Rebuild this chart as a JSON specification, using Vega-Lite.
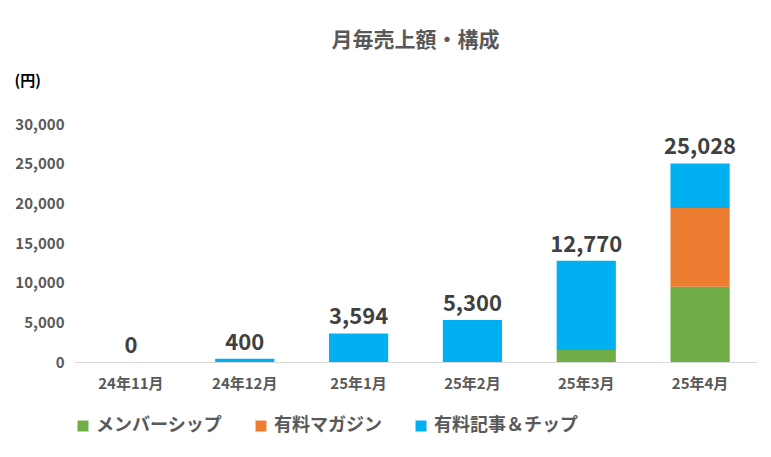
{
  "$schema": "https://vega.github.io/schema/vega-lite/v6.json",
  "width": 771,
  "height": 457,
  "autosize": {"type": "fit", "contains": "padding"},
  "padding": {"left": 14, "right": 14, "top": 30, "bottom": 22},
  "background": "white",
  "title": {"text": "月毎売上額・構成", "font": "Noto Sans CJK JP", "fontSize": 21, "fontWeight": "bold", "color": "#595959", "offset": 22},
  "config": {
    "view": {"stroke": null},
    "font": "Noto Sans CJK JP"
  },
  "data": {
    "values": [
      {"month": "24年11月", "type": "メンバーシップ", "value": 0},
      {"month": "24年12月", "type": "有料記事＆チップ", "value": 400},
      {"month": "25年1月", "type": "有料記事＆チップ", "value": 3594},
      {"month": "25年2月", "type": "有料記事＆チップ", "value": 5300},
      {"month": "25年3月", "type": "メンバーシップ", "value": 1500},
      {"month": "25年3月", "type": "有料記事＆チップ", "value": 11270},
      {"month": "25年4月", "type": "メンバーシップ", "value": 9500},
      {"month": "25年4月", "type": "有料マガジン", "value": 9900},
      {"month": "25年4月", "type": "有料記事＆チップ", "value": 5628}
    ]
  },
  "encoding": {
    "x": {
      "field": "month", "type": "nominal", "sort": null,
      "scale": {"paddingInner": 0.48, "paddingOuter": 0.24},
      "axis": {"title": null, "labelAngle": 0, "labelFontSize": 15, "labelFontWeight": "bold", "labelColor": "#595959", "labelPadding": 14, "ticks": false, "domainColor": "#d9d9d9"}
    }
  },
  "layer": [
    {
      "mark": {"type": "bar"},
      "encoding": {
        "y": {
          "aggregate": "sum", "field": "value", "type": "quantitative",
          "scale": {"domain": [0, 30000]},
          "axis": {"title": "(円)", "titleAngle": 0, "titleAnchor": "end", "titleAlign": "left", "titleX": -60, "titleY": -36, "titleFontSize": 15, "titleColor": "#000", "format": ",.0f", "tickCount": 6, "labelFontSize": 15, "labelFontWeight": "bold", "labelColor": "#595959", "labelPadding": 10, "ticks": false, "domain": false, "grid": false}
        },
        "color": {
          "field": "type", "type": "nominal",
          "scale": {"domain": ["メンバーシップ", "有料マガジン", "有料記事＆チップ"], "range": ["#70ad47", "#ed7d31", "#00b0f0"]},
          "legend": {"title": null, "orient": "bottom", "direction": "horizontal", "symbolType": "square", "symbolSize": 120, "labelFontSize": 18, "labelFontWeight": "bold", "labelColor": "#595959", "columnPadding": 30, "offset": 26}
        },
        "order": {"field": "type", "sort": "ascending"}
      }
    },
    {
      "mark": {"type": "text", "dy": -16, "fontSize": 22, "fontWeight": "bold", "color": "#404040"},
      "encoding": {
        "y": {"aggregate": "sum", "field": "value", "type": "quantitative"},
        "text": {"aggregate": "sum", "field": "value", "type": "quantitative", "format": ",.0f"}
      }
    }
  ]
}
